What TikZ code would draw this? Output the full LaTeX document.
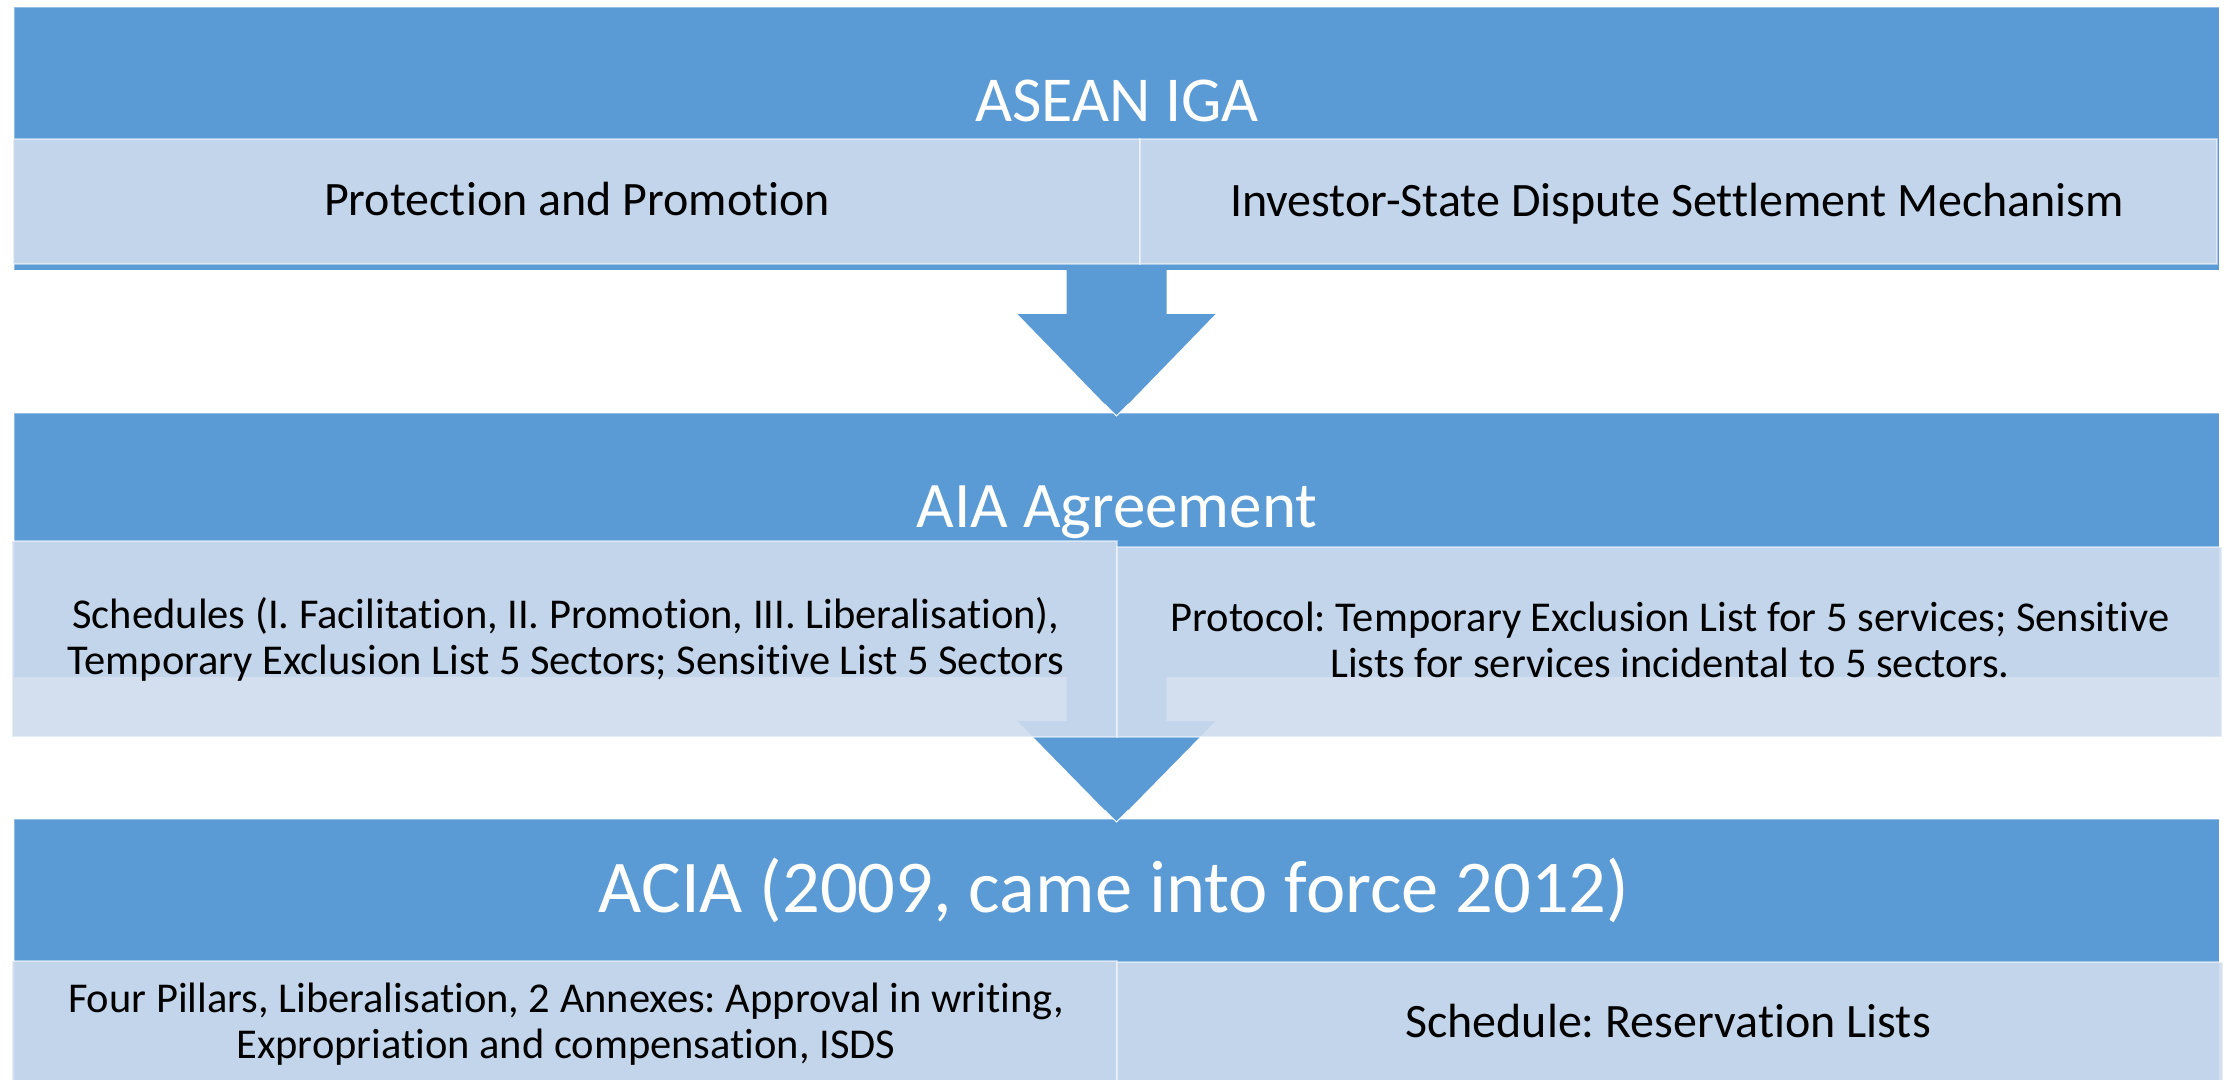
\documentclass[tikz,border=0pt]{standalone}
\usepackage{fontspec}
\setmainfont{Carlito}[Ligatures={TeX,NoCommon,NoContextual}]
\usetikzlibrary{calc}
\definecolor{bandblue}{HTML}{5B9BD5}
\definecolor{lightfill}{RGB}{207,220,237}
\frenchspacing
\begin{document}
\frenchspacing
\begin{tikzpicture}[x=1pt,y=-1pt,
  band/.style={rectangle, anchor=north west, outer sep=0pt, inner sep=0pt,
    fill=bandblue, draw=white, draw opacity=0.35, line width=1pt},
  subbox/.style={rectangle, anchor=north west, outer sep=0pt, inner sep=0pt,
    fill=lightfill, fill opacity=0.9, draw=white, draw opacity=0.45, line width=2pt},
  dnarrow/.style={fill=bandblue},
  tipedge/.style={draw=white, line width=1pt},
  title/.style={text=white, anchor=base, inner sep=0pt},
  body/.style={text=black, anchor=base, inner sep=0pt},
]
\useasboundingbox (0,0) rectangle (2226,1079);
\clip (0,0) rectangle (2226,1079);
\fill[white] (0,0) rectangle (2226,1079);

% bands
\node[band, minimum width=2205, minimum height=263] (b1) at (14,7) {};
\node[band, minimum width=2205, minimum height=264] (b2) at (14,413) {};
\node[band, minimum width=2205, minimum height=300] (b3) at (14,819) {};

% arrow 1
\coordinate (a1) at (b1.south);
\fill[dnarrow] (a1) ++(-50,0) -- ++(100,0) -- ++(0,44) -- ++(49,0) -- ++(-99,102)
  coordinate (a1tip) -- ++(-99,-102) -- ++(49,0) -- cycle;
\draw[tipedge] ($(a1tip)+(-12,-12)$) -- (a1tip) -- ($(a1tip)+(12,-12)$);

% arrow 2
\coordinate (a2) at (b2.south);
\fill[dnarrow] (a2) ++(-50,0) -- ++(100,0) -- ++(0,44) -- ++(49,0) -- ++(-99,101)
  coordinate (a2tip) -- ++(-99,-101) -- ++(49,0) -- cycle;
\draw[tipedge] ($(a2tip)+(-12,-12)$) -- (a2tip) -- ($(a2tip)+(12,-12)$);

% sub boxes
\node[subbox, minimum width=1127, minimum height=125] (l1) at (13,139) {};
\node[subbox, minimum width=1077, minimum height=125] (r1) at (1140,139) {};
\node[subbox, minimum width=1105, minimum height=196] (l2) at (12,541) {};
\node[subbox, minimum width=1105, minimum height=190] (r2) at (1117,547) {};
\node[subbox, minimum width=1105, minimum height=160] (l3) at (12,961) {};
\node[subbox, minimum width=1106, minimum height=160] (r3) at (1117,962) {};

% texts
\node[title, font=\fontsize{64}{70}\selectfont] (t1) at (1117,121) {ASEAN IGA};
\node[body, font=\fontsize{48}{54}\selectfont] (t2) at (577,215) {Protection and Promotion};
\node[body, font=\fontsize{48}{54}\selectfont] (t3) at (1677,216) {Investor-State Dispute Settlement Mechanism};
\node[title, font=\fontsize{65}{72}\selectfont] (t4) at (1117,527) {AIA Agreement};
\node[body, font=\fontsize{42.5}{46}\selectfont] (t5a) at (566,628) {Schedules (I. Facilitation, II. Promotion, III. Liberalisation),};
\node[body, font=\fontsize{42.5}{46}\selectfont] (t5b) at (566,674) {Temporary Exclusion List 5 Sectors; Sensitive List 5 Sectors};
\node[body, font=\fontsize{42.5}{46}\selectfont] (t6a) at (1670,631) {Protocol: Temporary Exclusion List for 5 services; Sensitive};
\node[body, font=\fontsize{42.5}{46}\selectfont] (t6b) at (1670,677) {Lists for services incidental to 5 sectors.};
\node[title, font=\fontsize{74.5}{80}\selectfont] (t7) at (1114,912) {ACIA (2009, came into force 2012)};
\node[body, font=\fontsize{42.5}{46}\selectfont] (t8a) at (566,1012) {Four Pillars, Liberalisation, 2 Annexes: Approval in writing,};
\node[body, font=\fontsize{42.5}{46}\selectfont] (t8b) at (566,1058) {Expropriation and compensation, ISDS};
\node[body, font=\fontsize{48}{54}\selectfont] (t9) at (1668,1037) {Schedule: Reservation Lists};
\end{tikzpicture}
\end{document}
